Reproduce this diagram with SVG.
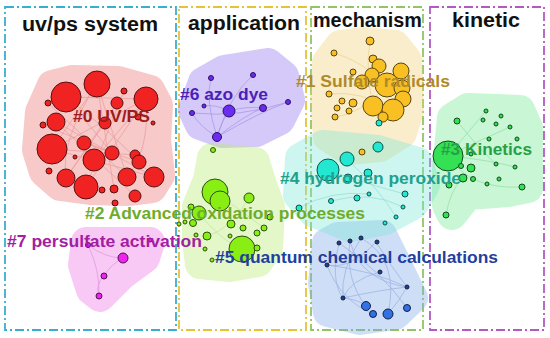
<svg xmlns="http://www.w3.org/2000/svg" width="550" height="338" viewBox="0 0 550 338">
<style>
.box{fill:none;stroke-width:1.8;stroke-dasharray:9 3 2 3}
.hull{stroke-linejoin:round;stroke-width:30}
.head{font-family:"Liberation Sans",Arial,sans-serif;font-weight:bold;font-size:20px;fill:#111}
.lab{font-family:"Liberation Sans",Arial,sans-serif;font-weight:bold;font-size:17px}
.n circle{stroke-width:1}
.e path,.e line{fill:none;stroke-width:0.7}
</style>
<rect width="550" height="338" fill="#fff"/>
<g id="frames">
<rect class="box" x="5" y="7" width="171" height="323" stroke="#3aaed0"/>
<rect class="box" x="179" y="7" width="127" height="323" stroke="#e5c23a"/>
<rect class="box" x="311" y="7" width="112" height="323" stroke="#92c463"/>
<rect class="box" x="430" y="7" width="114" height="323" stroke="#b459c2"/>
</g>
<g id="headings">
<text class="head" x="22" y="31" textLength="136" lengthAdjust="spacingAndGlyphs">uv/ps  system</text>
<text class="head" x="188" y="30" textLength="112" lengthAdjust="spacingAndGlyphs">application</text>
<text class="head" x="313" y="27" textLength="109" lengthAdjust="spacingAndGlyphs">mechanism</text>
<text class="head" x="452" y="27" textLength="68" lengthAdjust="spacingAndGlyphs">kinetic</text>
</g>
<g id="hulls">
<g opacity="0.37"><polygon class="hull" fill="#7da8ec" stroke="#7da8ec" points="327,243 338,237 382,235 392,255 413,298 395,315 360,320 328,312 323,283"/></g>
<g opacity="0.37"><polygon class="hull" fill="#f0d173" stroke="#f0d173" points="327,62 340,45 362,42 395,45 407,60 409,110 402,133 380,147 348,150 328,137 325,100"/></g>
<g opacity="0.37"><polygon class="hull" fill="#7de8d8" stroke="#7de8d8" points="300,158 323,145 378,150 418,162 425,185 413,205 385,220 350,227 313,212 298,195"/></g>
<g opacity="0.37"><polygon class="hull" fill="#eb6e6e" stroke="#eb6e6e" points="37,150 40,112 52,85 72,80 118,81 150,90 158,105 156,140 160,175 152,188 128,191 90,190 60,186 44,172"/></g>
<g opacity="0.37"><polygon class="hull" fill="#8e6ef0" stroke="#8e6ef0" points="193,110 203,82 224,70 268,63 284,76 290,100 280,120 256,132 222,133 200,125"/></g>
<g opacity="0.37"><polygon class="hull" fill="#b6ea6e" stroke="#b6ea6e" points="212,158 255,162 262,185 270,207 268,248 258,262 230,267 200,264 197,240 197,207 208,180"/></g>
<g opacity="0.37"><polygon class="hull" fill="#6ee890" stroke="#6ee890" points="452,118 468,108 520,110 528,128 528,188 508,192 468,195 452,215 447,205 447,170"/></g>
<g opacity="0.37"><polygon class="hull" fill="#ef6ee8" stroke="#ef6ee8" points="86,242 150,242 145,258 122,275 100,297 91,290 83,265"/></g>
</g>
<g id="connectors" class="e">
<g stroke="#e06060" opacity="0.45">
<line x1="66" y1="97" x2="146" y2="99"/><line x1="66" y1="97" x2="112" y2="153"/><line x1="97" y1="84" x2="52" y2="149"/>
<line x1="97" y1="84" x2="127" y2="177"/><line x1="146" y1="99" x2="86" y2="187"/><line x1="146" y1="99" x2="52" y2="149"/>
<line x1="56" y1="122" x2="154" y2="177"/><line x1="52" y1="149" x2="154" y2="177"/><line x1="66" y1="178" x2="117" y2="103"/>
<line x1="84" y1="143" x2="139" y2="162"/><line x1="94" y1="160" x2="146" y2="99"/><line x1="105" y1="123" x2="66" y2="178"/>
<line x1="48" y1="103" x2="127" y2="177"/><line x1="124" y1="91" x2="86" y2="187"/><line x1="135" y1="196" x2="56" y2="122"/>
<line x1="114" y1="189" x2="97" y2="84"/><line x1="52" y1="149" x2="135" y2="155"/><line x1="43" y1="125" x2="112" y2="153"/>
<path d="M66 97 Q110 130 154 177"/><path d="M97 84 Q60 140 66 178"/><path d="M146 99 Q150 150 127 177"/>
</g>
<g stroke="#8a70d8" opacity="0.6">
<path d="M217 137 Q205 100 211 78"/><path d="M217 137 Q230 95 253 75"/><path d="M217 137 Q222 120 229 111"/>
<path d="M217 137 Q245 115 263 108"/><path d="M217 137 Q260 112 288 102"/><path d="M217 137 Q198 125 192 113"/>
<path d="M229 111 Q215 104 204 106"/><path d="M229 111 Q246 106 263 108"/><path d="M192 113 Q240 118 288 102"/>
</g>
<g stroke="#e3b850" opacity="0.5">
<path d="M334 53 Q360 60 387 85"/><path d="M370 41 Q365 70 373 106"/><path d="M329 94 Q360 90 393 110"/><path d="M335 117 Q360 115 387 85"/>
</g>
<g stroke="#50c8b8" opacity="0.5">
<path d="M328 170 Q370 185 405 194"/><path d="M331 201 Q370 190 403 207"/><path d="M347 159 Q380 190 396 217"/><path d="M299 208 Q330 190 369 194"/>
</g>
<g stroke="#5cc878" opacity="0.5">
<path d="M448 156 Q470 130 486 111"/><path d="M448 156 Q480 140 510 127"/><path d="M448 156 Q490 160 515 167"/><path d="M448 156 Q470 190 522 187"/><path d="M457 121 Q480 150 496 164"/>
<path d="M446 215 Q450 190 463 178"/>
</g>
<g stroke="#5a78c8" opacity="0.45">
<path d="M339 243 Q330 280 343 298"/><path d="M350 241 Q360 280 407 287"/><path d="M361 238 Q340 270 343 298"/><path d="M376 242 Q390 265 407 287"/>
<path d="M327 265 Q370 270 407 287"/><path d="M380 272 Q350 280 343 298"/><path d="M343 298 Q380 290 407 287"/><path d="M339 243 Q380 270 407 308"/>
<path d="M350 241 Q345 280 366 306"/><path d="M361 238 Q400 260 388 314"/><path d="M327 265 Q340 300 373 314"/><path d="M376 242 Q350 270 327 265"/>
<path d="M407 287 Q400 300 388 314"/><path d="M343 298 Q360 300 366 306"/>
</g>
<g stroke="#d070d0" opacity="0.6">
<path d="M88 245 Q105 258 123 258"/><path d="M123 258 Q110 265 104 276"/><path d="M104 276 Q95 285 99 296"/><path d="M88 245 Q100 270 99 296"/>
</g>
<g stroke="#9ccc6a" opacity="0.45">
<path d="M215 192 Q240 210 264 228"/><path d="M199 213 Q220 240 242 249"/><path d="M249 198 Q230 230 207 236"/>
</g>
</g>
<g id="cluster-0" class="n" fill="#f02222" stroke="#5a1010">
<circle cx="66" cy="97" r="15"/><circle cx="97" cy="84" r="13"/><circle cx="146" cy="99" r="12"/><circle cx="124" cy="91" r="3"/>
<circle cx="48" cy="103" r="3"/><circle cx="117" cy="103" r="6"/><circle cx="56" cy="122" r="9"/><circle cx="43" cy="125" r="3"/>
<circle cx="105" cy="123" r="6"/><circle cx="138" cy="117" r="3"/><circle cx="153" cy="123" r="2"/><circle cx="52" cy="149" r="15"/>
<circle cx="84" cy="143" r="7"/><circle cx="112" cy="153" r="7"/><circle cx="94" cy="160" r="11"/><circle cx="75" cy="157" r="2"/>
<circle cx="135" cy="155" r="5"/><circle cx="139" cy="162" r="7"/><circle cx="49" cy="171" r="3"/><circle cx="66" cy="178" r="9"/>
<circle cx="86" cy="187" r="12"/><circle cx="102" cy="190" r="3"/><circle cx="114" cy="189" r="4"/><circle cx="127" cy="177" r="9"/>
<circle cx="154" cy="177" r="10"/><circle cx="135" cy="196" r="6"/><circle cx="115" cy="203" r="3"/>
</g>
<g id="cluster-6" class="n" fill="#6a2cf0" stroke="#2a1060">
<circle cx="211" cy="78" r="2.5"/><circle cx="253" cy="75" r="2.5"/><circle cx="204" cy="106" r="2"/><circle cx="192" cy="113" r="2.5"/>
<circle cx="229" cy="111" r="6"/><circle cx="263" cy="108" r="3.5"/><circle cx="288" cy="102" r="2.5"/><circle cx="217" cy="137" r="4.5"/>
</g>
<g id="cluster-2" class="n" fill="#88ee14" stroke="#2f5010">
<circle cx="213" cy="150" r="2.5"/><circle cx="215" cy="192" r="13"/><circle cx="220" cy="201" r="10"/><circle cx="249" cy="198" r="5"/>
<circle cx="199" cy="213" r="7"/><circle cx="191" cy="207" r="3"/><circle cx="185" cy="222" r="2"/><circle cx="179" cy="224" r="2"/>
<circle cx="193" cy="223" r="3.5"/><circle cx="207" cy="236" r="4"/><circle cx="196" cy="235" r="2"/><circle cx="205" cy="249" r="2"/>
<circle cx="231" cy="224" r="4"/><circle cx="230" cy="236" r="2"/><circle cx="242" cy="249" r="13"/><circle cx="257" cy="248" r="3"/>
<circle cx="243" cy="228" r="3"/><circle cx="257" cy="233" r="3"/><circle cx="264" cy="228" r="3"/><circle cx="270" cy="217" r="3"/>
<circle cx="212" cy="260" r="2"/>
</g>
<g id="cluster-4" class="n" fill="#22e8d2" stroke="#105048">
<circle cx="378" cy="147" r="5"/><circle cx="347" cy="159" r="7"/><circle cx="328" cy="170" r="11"/><circle cx="368" cy="173" r="4"/>
<circle cx="348" cy="178" r="4"/><circle cx="331" cy="201" r="2.5"/><circle cx="357" cy="198" r="3"/><circle cx="369" cy="194" r="2"/>
<circle cx="405" cy="194" r="3"/><circle cx="403" cy="207" r="2"/><circle cx="396" cy="217" r="2"/><circle cx="385" cy="223" r="2"/>
<circle cx="299" cy="208" r="3"/>
</g>
<g id="cluster-1" class="n" fill="#f8c022" stroke="#5a4510">
<circle cx="370" cy="41" r="4"/><circle cx="334" cy="53" r="3"/><circle cx="373" cy="59" r="4"/><circle cx="353" cy="72" r="3"/>
<circle cx="329" cy="94" r="3"/><circle cx="342" cy="101" r="3"/><circle cx="353" cy="103" r="4"/><circle cx="337" cy="108" r="3"/>
<circle cx="349" cy="111" r="3"/><circle cx="335" cy="117" r="3"/><circle cx="362" cy="152" r="3"/>
<circle cx="379" cy="66" r="7"/><circle cx="401" cy="71" r="8"/><circle cx="372" cy="75" r="7"/><circle cx="362" cy="82" r="7"/>
<circle cx="387" cy="85" r="12"/><circle cx="402" cy="88" r="8"/><circle cx="373" cy="106" r="10"/><circle cx="403" cy="99" r="8"/>
<circle cx="393" cy="110" r="11"/><circle cx="383" cy="117" r="5"/>
<circle cx="379" cy="123" r="3" fill="#22e8d2" stroke="#105048"/>
</g>
<g id="cluster-3" class="n" fill="#34e054" stroke="#0f4a1a">
<circle cx="486" cy="111" r="2"/><circle cx="501" cy="116" r="2"/><circle cx="457" cy="121" r="3"/><circle cx="483" cy="120" r="2"/>
<circle cx="496" cy="124" r="2"/><circle cx="510" cy="127" r="2"/><circle cx="489" cy="139" r="2"/><circle cx="517" cy="139" r="2"/>
<circle cx="448" cy="156" r="15"/><circle cx="471" cy="154" r="2"/><circle cx="471" cy="168" r="4"/><circle cx="461" cy="166" r="2.5"/>
<circle cx="496" cy="164" r="2"/><circle cx="515" cy="167" r="2"/><circle cx="463" cy="178" r="4"/><circle cx="473" cy="179" r="2.5"/>
<circle cx="499" cy="179" r="2"/><circle cx="487" cy="184" r="2"/><circle cx="522" cy="187" r="3"/><circle cx="449" cy="185" r="3"/>
<circle cx="446" cy="215" r="3"/>
</g>
<g id="cluster-5" class="n" stroke="#102040">
<g fill="#1f3f8a">
<circle cx="339" cy="243" r="2"/><circle cx="350" cy="241" r="2"/><circle cx="361" cy="238" r="2"/><circle cx="377" cy="242" r="2"/>
<circle cx="327" cy="265" r="2"/><circle cx="380" cy="272" r="2"/><circle cx="407" cy="287" r="2"/><circle cx="343" cy="298" r="2"/>
</g>
<g fill="#3272e6">
<circle cx="366" cy="306" r="4.5"/><circle cx="373" cy="314" r="3.5"/><circle cx="388" cy="314" r="5"/><circle cx="407" cy="308" r="3.5"/>
</g>
</g>
<g id="cluster-7" class="n" fill="#f022ee" stroke="#501050">
<circle cx="88" cy="245" r="2.5"/><circle cx="123" cy="258" r="5"/><circle cx="104" cy="276" r="3"/><circle cx="99" cy="296" r="3"/><circle cx="150" cy="240" r="2"/>
</g>
<g id="labels">
<text class="lab" x="73" y="122" fill="#9e1c1c" font-size="18" textLength="77" lengthAdjust="spacingAndGlyphs">#0 UV/PS</text>
<text class="lab" x="180" y="100" fill="#4b1fb5" textLength="88" lengthAdjust="spacingAndGlyphs">#6 azo dye</text>
<text class="lab" x="296" y="87" fill="#b08a2a" textLength="154" lengthAdjust="spacingAndGlyphs">#1 Sulfate radicals</text>
<text class="lab" x="441" y="155" fill="#27a045" textLength="91" lengthAdjust="spacingAndGlyphs">#3 Kinetics</text>
<text class="lab" x="280" y="184" fill="#22a08e" textLength="181" lengthAdjust="spacingAndGlyphs">#4 hydrogen peroxide</text>
<text class="lab" x="85" y="219" fill="#6fac2a" textLength="280" lengthAdjust="spacingAndGlyphs">#2 Advanced oxidation processes</text>
<text class="lab" x="7" y="247" fill="#a21ea2" textLength="195" lengthAdjust="spacingAndGlyphs">#7 persulfate activation</text>
<text class="lab" x="215" y="263" fill="#1f3f9f" textLength="283" lengthAdjust="spacingAndGlyphs">#5 quantum chemical calculations</text>
</g>
</svg>
